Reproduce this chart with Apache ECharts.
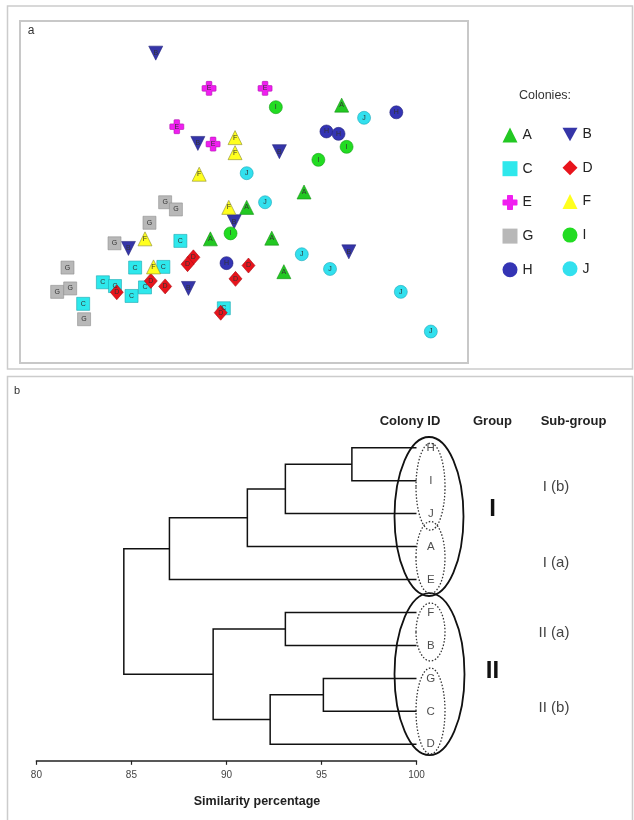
<!DOCTYPE html>
<html>
<head>
<meta charset="utf-8">
<script src="https://cdn.jsdelivr.net/npm/echarts@6/dist/echarts.min.js"></script>
<style>
html,body{margin:0;padding:0;background:#fff;}
#chart{width:634px;height:820px;}
</style>
</head>
<body>
<div id="chart"></div>
<script>
// ---------- Panel a: ordination scatter (arbitrary units 0-100) ----------
const colonyNames = ['A','B','C','D','E','F','G','H','I','J'];
const colonyA = [[71.8,75.4],[63.4,50.0],[50.6,45.5],[42.5,36.3],[56.2,36.5],[58.9,26.7]];
const colonyB = [[30.3,90.6],[39.7,64.2],[57.9,61.8],[47.8,41.3],[24.2,33.5],[37.6,21.8],[73.4,32.5]];
const colonyC = [[35.8,35.7],[25.7,27.9],[32.0,28.1],[18.5,23.6],[21.2,22.5],[24.9,19.6],[27.9,22.1],[14.1,17.3],[45.5,16.0]];
const colonyD = [[38.7,30.9],[37.4,28.9],[51.0,28.5],[48.1,24.6],[21.6,20.7],[29.2,24.0],[32.4,22.4],[44.8,14.7]];
const colonyE = [[42.2,80.3],[54.7,80.3],[35.0,69.1],[43.1,64.0]];
const colonyF = [[48.0,65.9],[48.0,61.5],[40.0,55.2],[46.6,45.5],[27.9,36.3],[29.8,28.1]];
const colonyG = [[32.4,47.0],[34.8,44.9],[28.9,41.0],[21.1,35.0],[10.6,27.9],[8.3,20.8],[11.2,21.8],[14.3,12.8]];
const colonyH = [[84.0,73.3],[68.4,67.7],[71.1,67.0],[46.1,29.2]];
const colonyI = [[57.1,74.8],[72.9,63.2],[66.6,59.4],[47.0,37.9]];
const colonyJ = [[76.8,71.7],[50.6,55.5],[54.7,47.0],[62.9,31.8],[69.2,27.5],[85.0,20.8],[91.7,9.2]];
const colonyData = [colonyA,colonyB,colonyC,colonyD,colonyE,colonyF,colonyG,colonyH,colonyI,colonyJ];

// ---------- Panel b: dendrogram ----------
const leaves = ['H','I','J','A','E','F','B','G','C','D'];
const merges = [
  ['H','I',96.6],
  ['HI','J',93.1],
  ['HIJ','A',91.1],
  ['HIJA','E',87.0],
  ['F','B',93.1],
  ['G','C',95.1],
  ['GC','D',92.3],
  ['FB','GCD',89.3],
  ['HIJAE','FBGCD',84.6]
];
const simTicks = [80,85,90,95,100];

// ---------- styles ----------
const styles = {
  A:{symbol:'triangle', size:14, color:'#22c822', border:'#139013'},
  B:{symbol:'path://M0,0 L10,0 L5,9 Z', size:14, color:'#3535a8', border:'#26267e'},
  C:{symbol:'rect', size:13, color:'#2ee8ec', border:'#1aa8b0'},
  D:{symbol:'diamond', size:[13,15], color:'#e8141c', border:'#a80a10'},
  E:{symbol:'path://M35,0 H65 Q70,0 70,5 V30 H95 Q100,30 100,35 V65 Q100,70 95,70 H70 V95 Q70,100 65,100 H35 Q30,100 30,95 V70 H5 Q0,70 0,65 V35 Q0,30 5,30 H30 V5 Q30,0 35,0 Z', size:14, color:'#f01ef0', border:'#b010b0'},
  F:{symbol:'triangle', size:14, color:'#ffff1e', border:'#8a8a30'},
  G:{symbol:'rect', size:13, color:'#b8b8b8', border:'#8f8f8f'},
  H:{symbol:'circle', size:13, color:'#3434b4', border:'#22227a'},
  I:{symbol:'circle', size:13, color:'#22dc22', border:'#15a015'},
  J:{symbol:'circle', size:13, color:'#32e0ee', border:'#1aa8b8'}
};

const font = '"Liberation Sans", Arial, sans-serif';

const series = [];
colonyNames.forEach((n,i)=>{
  const s = styles[n];
  series.push({
    type:'scatter', name:n, xAxisIndex:0, yAxisIndex:0,
    data: colonyData[i],
    symbol: s.symbol, symbolSize: s.size,
    itemStyle:{color:s.color, borderColor:s.border, borderWidth:0.6, opacity:1},
    label:{show:true, position:'inside', formatter:n, fontSize:7, color:'#333', fontFamily:font},
    emphasis:{disabled:true}
  });
});

// dendrogram geometry from merges
const nodes = {};
leaves.forEach((l,i)=>{ nodes[l] = {s:100, y:i}; });
const dendroLines = [];
merges.forEach(m=>{
  const a = nodes[m[0]], b = nodes[m[1]], S = m[2];
  dendroLines.push({coords:[[a.s,a.y],[S,a.y],[S,b.y],[b.s,b.y]]});
  nodes[m[0]+m[1]] = {s:S, y:(a.y+b.y)/2};
});

series.push({
  type:'lines', coordinateSystem:'cartesian2d', xAxisIndex:1, yAxisIndex:1,
  polyline:true, clip:false, silent:true,
  data: dendroLines,
  lineStyle:{color:'#111', width:1.5, opacity:1}
});
series.push({
  type:'scatter', xAxisIndex:1, yAxisIndex:1, clip:false, silent:true,
  data: leaves.map((l,i)=>[100.75, i, l]),
  symbolSize:2, itemStyle:{color:'rgba(0,0,0,0)'},
  label:{show:true, position:'inside', formatter:p=>p.value[2], fontSize:11.5, color:'#222', fontFamily:font},
  z:6
});

function txt(text,x,y,size,weight,color,align){
  return {type:'text', z:10, style:{text:text, x:x, y:y, font:(weight||'normal')+' '+size+'px '+font,
    fill:color||'#333', align:align||'center', verticalAlign:'middle', textAlign:align||'center', textVerticalAlign:'middle'}};
}
function ell(cx,cy,rx,ry,dotted){
  return {type:'ellipse', z:5, shape:{cx:cx,cy:cy,rx:rx,ry:ry},
    style:{fill:'none', stroke: dotted?'#333':'#111', lineWidth: dotted?1.3:1.8, lineDash: dotted?[1.5,1.8]:null}};
}

const graphic = [
  {type:'rect', shape:{x:7.5,y:6,width:625,height:363}, style:{fill:'none', stroke:'#cccccc', lineWidth:1.5}},
  {type:'rect', shape:{x:7.5,y:376.5,width:625,height:460}, style:{fill:'none', stroke:'#cccccc', lineWidth:1.5}},
  txt('a',31,30.5,12,'normal','#333'),
  txt('b',17,390.5,11,'normal','#333'),
  txt('Colonies:',545,96,12.5,'normal','#333'),
  txt('Colony ID',410,421.5,13,'bold','#222'),
  txt('Group',492.5,421.5,13,'bold','#222'),
  txt('Sub-group',573.5,421.5,13,'bold','#222'),
  txt('I',492.5,509,24,'bold','#111'),
  txt('II',492.5,671,24,'bold','#111'),
  txt('I (b)',556,486.5,15,'normal','#444'),
  txt('I (a)',556,562.5,15,'normal','#444'),
  txt('II (a)',554,633,15,'normal','#444'),
  txt('II (b)',554,708,15,'normal','#444'),
  txt('Similarity percentage',257,801.5,12.5,'bold','#222'),
  ell(429,516.5,34.5,79.5,false),
  ell(429.5,674.2,35,81,false),
  ell(430.5,486.7,14.5,43.5,true),
  ell(430.5,557.5,14.5,36,true),
  ell(430.5,632,14.5,29,true),
  ell(430.5,711,14.5,43,true)
];

const chart = echarts.init(document.getElementById('chart'), null, {renderer:'canvas'});
chart.setOption({
  animation:false,
  backgroundColor:'#fff',
  textStyle:{fontFamily:font},
  grid:[
    {left:20, top:21, width:448, height:342, show:true, borderColor:'#c8c8c8', borderWidth:2, backgroundColor:'#fff'},
    {left:36.4, top:447.7, width:380.1, height:296.6, show:false}
  ],
  xAxis:[
    {gridIndex:0, type:'value', min:0, max:100, show:false},
    {gridIndex:1, type:'value', min:80, max:100, interval:5, offset:16.5, position:'bottom',
     axisLine:{show:true, onZero:false, lineStyle:{color:'#222', width:1.5}},
     axisTick:{show:true, length:4, lineStyle:{color:'#222', width:1.2}},
     axisLabel:{show:true, fontSize:10, color:'#444', margin:9, fontFamily:font},
     splitLine:{show:false}}
  ],
  yAxis:[
    {gridIndex:0, type:'value', min:0, max:100, show:false},
    {gridIndex:1, type:'value', min:0, max:9, inverse:true, show:false}
  ],
  legend:[
    {data:['A','C','E','G','H'], orient:'vertical', left:502.5, top:127.5, itemWidth:15, itemHeight:15,
     itemGap:18.7, textStyle:{fontSize:14, color:'#222', fontFamily:font}, selectedMode:false, padding:0,
     itemStyle:{borderWidth:0}},
    {data:['B','D','F','I','J'], orient:'vertical', left:562.5, top:127.5, itemWidth:15, itemHeight:15,
     itemGap:18.7, textStyle:{fontSize:14, color:'#222', fontFamily:font}, selectedMode:false, padding:0,
     itemStyle:{borderWidth:0}}
  ],
  graphic: graphic,
  series: series
});
</script>
</body>
</html>
